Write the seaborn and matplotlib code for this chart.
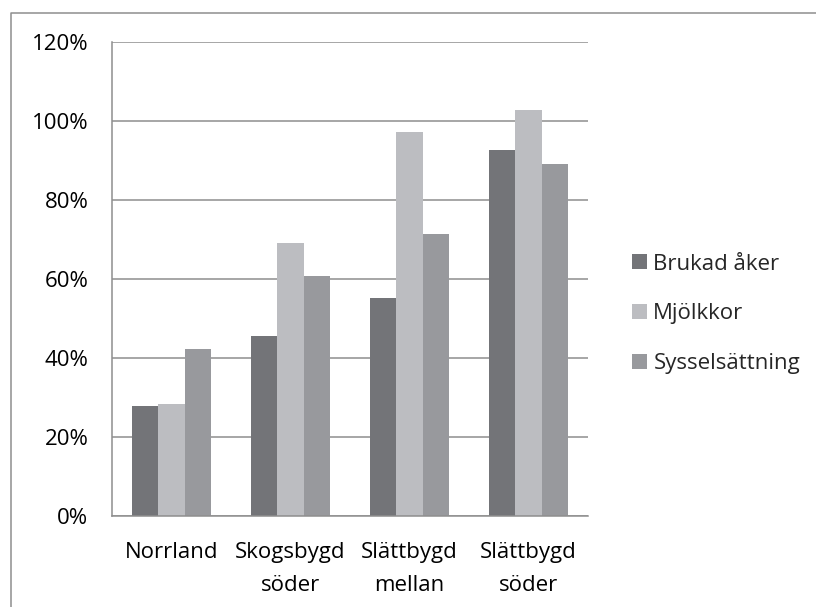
import matplotlib
matplotlib.use("Agg")
import matplotlib.pyplot as plt
import matplotlib.patches as mpatches
from matplotlib.lines import Line2D
import numpy as np
import pandas as pd
import seaborn as sns

regions = ["Norrland", "Skogsbygd\nsöder", "Slättbygd\nmellan", "Slättbygd\nsöder"]
brukad_aker = [27.9, 45.5, 55.1, 92.6]
mjolkkor = [28.4, 69.0, 97.3, 102.9]
sysselsattning = [42.4, 60.8, 71.4, 89.2]
series = ["Brukad åker", "Mjölkkor", "Sysselsättning"]
colors = ["#737478", "#bcbdc1", "#98999d"]
yticks = [0, 20, 40, 60, 80, 100, 120]

df = pd.DataFrame(
    {
        "Region": regions,
        "Brukad åker": brukad_aker,
        "Mjölkkor": mjolkkor,
        "Sysselsättning": sysselsattning,
    }
)
data = df.melt("Region", var_name="Serie", value_name="value")

sns.set_style("white")
plt.rcParams["font.family"] = ["Open Sans", "DejaVu Sans"]
grid_col = "#8e8e8e"
fsize = 16

fig = plt.figure(figsize=(8.16, 6.07), dpi=100)
ax = fig.add_axes([112 / 816, 1 - 516 / 607, 476 / 816, 474 / 607])

sns.barplot(
    data=data,
    x="Region",
    y="value",
    hue="Serie",
    hue_order=series,
    palette=colors,
    width=0.66,
    gap=0,
    saturation=1,
    edgecolor="none",
    ax=ax,
    legend=False,
)

ax.set_ylim(0, 120)
ax.set_xlim(-0.5, 3.5)
ax.set_yticks(yticks)
ax.set_yticklabels([f"{v}%" for v in yticks])
ax.yaxis.grid(True, color=grid_col, linewidth=1.1)
ax.set_axisbelow(True)
ax.set_xlabel("")
ax.set_ylabel("")

for side in ["top", "right"]:
    ax.spines[side].set_visible(False)
for side in ["left", "bottom"]:
    ax.spines[side].set_color(grid_col)
    ax.spines[side].set_linewidth(1.1)

ax.set_xticks(np.arange(-0.5, 4, 1), minor=True)
ax.tick_params(axis="x", which="major", length=0, labelsize=fsize, pad=19)
ax.tick_params(axis="x", which="minor", length=6, width=1.1, color=grid_col, direction="out")
ax.tick_params(axis="y", length=6, width=1.1, color=grid_col, labelsize=fsize, pad=11, direction="out")
ax.tick_params(axis="both", labelcolor="black")
for lab in ax.get_xticklabels():
    lab.set_linespacing(1.7)

handles = [mpatches.Patch(facecolor=c, edgecolor="none", label=s) for c, s in zip(colors, series)]
fig.legend(
    handles=handles,
    loc="center left",
    bbox_to_anchor=(612 / 816, 1 - 314 / 607),
    frameon=False,
    fontsize=fsize,
    handlelength=0.68,
    handleheight=0.68,
    handletextpad=0.28,
    labelspacing=1.3,
)

# chart area border (only left and top edges are inside the picture)
fig.add_artist(Line2D([11 / 816, 11 / 816, 1], [0, 1 - 13 / 607, 1 - 13 / 607],
                      transform=fig.transFigure, color=grid_col, linewidth=1.1))

fig.savefig("out.png", dpi=100)
